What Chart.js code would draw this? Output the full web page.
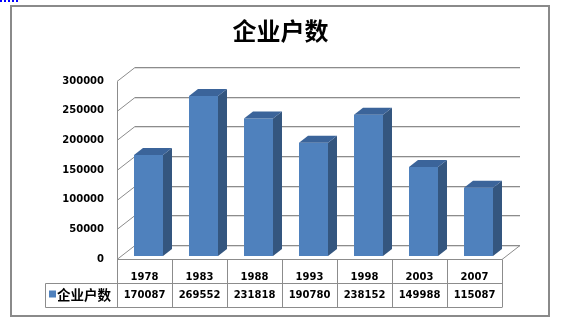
<!DOCTYPE html>
<html><head><meta charset="utf-8">
<script src="https://cdn.jsdelivr.net/npm/chart.js@4.4.0/dist/chart.umd.min.js"></script>
<style>html,body{margin:0;padding:0;background:#fff;overflow:hidden}#wrap{position:relative;width:561px;height:323px}</style>
</head><body><div id="wrap"><canvas id="c" width="561" height="323"></canvas></div>
<script>
// ---- data ----
const chartTitle = '企业户数';
const seriesName = '企业户数';
const years = ['1978', '1983', '1988', '1993', '1998', '2003', '2007'];
const households = [170087, 269552, 231818, 190780, 238152, 149988, 115087];
const yTickLabels = ['0', '50000', '100000', '150000', '200000', '250000', '300000'];

// ---- styling ----
const DEPTH_X = 18, DEPTH_Y = 14;      // wall depth
const BAR_DX = 4, BAR_DY = 3;          // bar plane offset from front
const SIDE_X = 9, SIDE_Y = 7;          // bar depth
const GRID = '#8c8c8c';
const FRONT = '#4f81bd', SIDE = '#34567f', TOP = '#3b649a';
const NUM_FONT = 'bold 10px "DejaVu Sans"';

function line(ctx, x1, y1, x2, y2) { ctx.beginPath(); ctx.moveTo(x1, y1); ctx.lineTo(x2, y2); ctx.stroke(); }

const threeD = {
  id: 'threeD',
  beforeDraw(chart) {
    const ctx = chart.ctx;
    ctx.save();
    ctx.fillStyle = '#fff';
    ctx.fillRect(0, 0, chart.width, chart.height);
    ctx.strokeStyle = '#8a8a8a';
    ctx.lineWidth = 2;
    ctx.strokeRect(11, 6, 538, 310);
    ctx.strokeStyle = '#0000ff';
    ctx.lineWidth = 2;
    ctx.setLineDash([2, 2]);
    line(ctx, 0, 1, 18, 1);
    ctx.setLineDash([]);
    // title, centred on the whole frame
    ctx.fillStyle = '#000';
    ctx.font = 'bold 24px "Noto Sans CJK SC"';
    ctx.textAlign = 'center';
    ctx.textBaseline = 'middle';
    ctx.fillText(chartTitle, 280.5, 31);
    ctx.restore();
  },
  beforeDatasetsDraw(chart) {
    const { ctx, chartArea: a, scales: { y } } = chart;
    ctx.save();
    ctx.lineWidth = 1;
    y.ticks.forEach(t => {
      const py = Math.round(y.getPixelForValue(t.value)) + 0.5;
      ctx.strokeStyle = '#dedede';
      line(ctx, a.left + DEPTH_X, py - DEPTH_Y + 1, a.right + DEPTH_X, py - DEPTH_Y + 1);
      ctx.strokeStyle = GRID;
      line(ctx, a.left + DEPTH_X, py - DEPTH_Y, a.right + DEPTH_X, py - DEPTH_Y);
      line(ctx, a.left, py, a.left + DEPTH_X, py - DEPTH_Y);
    });
    const x0 = Math.round(a.left) + 0.5;
    const yTop = Math.round(y.getPixelForValue(y.max)) + 0.5;
    const yBot = Math.round(y.getPixelForValue(y.min)) + 0.5;
    line(ctx, x0, yTop, x0, yBot);
    // floor
    line(ctx, a.left, yBot, a.right, yBot);
    line(ctx, a.right, yBot, a.right + DEPTH_X, yBot - DEPTH_Y);
    ctx.restore();
    ctx.save();
    ctx.translate(BAR_DX, -BAR_DY);
  },
  afterDatasetsDraw(chart) {
    const ctx = chart.ctx;
    const meta = chart.getDatasetMeta(0);
    meta.data.forEach(bar => {
      const { x, y, base, width } = bar.getProps(['x', 'y', 'base', 'width'], true);
      const l = x - width / 2, r = x + width / 2;
      ctx.fillStyle = SIDE;
      ctx.beginPath();
      ctx.moveTo(r, y); ctx.lineTo(r + SIDE_X, y - SIDE_Y);
      ctx.lineTo(r + SIDE_X, base - SIDE_Y); ctx.lineTo(r, base);
      ctx.closePath(); ctx.fill();
      ctx.fillStyle = TOP;
      ctx.beginPath();
      ctx.moveTo(l, y); ctx.lineTo(l + SIDE_X, y - SIDE_Y);
      ctx.lineTo(r + SIDE_X, y - SIDE_Y); ctx.lineTo(r, y);
      ctx.closePath(); ctx.fill();
    });
    ctx.restore();
  },
  afterDraw(chart) {
    const { ctx, chartArea: a, scales: { y } } = chart;
    const n = years.length;
    const cw = (a.right - a.left) / n;
    const top = Math.round(y.getPixelForValue(y.min)) + 0.5;
    const rowH = 24;
    const legendLeft = 45.5;
    ctx.save();
    ctx.strokeStyle = GRID;
    ctx.lineWidth = 1;
    for (let i = 0; i <= n; i++) {
      const px = Math.round(a.left + i * cw) + 0.5;
      line(ctx, px, top, px, top + 2 * rowH);
    }
    line(ctx, legendLeft, top + rowH, a.right, top + rowH);
    line(ctx, legendLeft, top + 2 * rowH, a.right, top + 2 * rowH);
    line(ctx, legendLeft, top + rowH, legendLeft, top + 2 * rowH);
    ctx.fillStyle = '#000';
    ctx.font = NUM_FONT;
    ctx.textAlign = 'center';
    ctx.textBaseline = 'alphabetic';
    years.forEach((yr, i) => {
      const cx = a.left + (i + 0.5) * cw;
      ctx.fillText(yr, cx, top + 20);
      ctx.fillText(String(households[i]), cx, top + rowH + 14.5);
    });
    // legend cell
    ctx.fillStyle = FRONT;
    ctx.fillRect(49, top + rowH + 7, 7, 7);
    ctx.fillStyle = '#000';
    ctx.textAlign = 'left';
    ctx.textBaseline = 'middle';
    ctx.font = 'bold 13.5px "Noto Sans CJK SC"';
    ctx.fillText(seriesName, 57, top + rowH + 11);
    ctx.restore();
  }
};

new Chart(document.getElementById('c'), {
  type: 'bar',
  data: {
    labels: years,
    datasets: [{
      label: seriesName,
      data: households,
      backgroundColor: FRONT,
      borderWidth: 0,
      barPercentage: 1,
      categoryPercentage: 29 / 55
    }]
  },
  options: {
    responsive: false,
    animation: false,
    devicePixelRatio: 1,
    layout: { padding: { left: 0, right: 59, top: 81, bottom: 64 } },
    plugins: {
      legend: { display: false },
      tooltip: { enabled: false },
      title: { display: false }
    },
    scales: {
      x: { display: false, offset: true, grid: { display: false } },
      y: {
        min: 0, max: 300000,
        ticks: {
          stepSize: 50000,
          color: '#000',
          font: { family: 'DejaVu Sans', size: 10, weight: 'bold' },
          padding: 13,
          callback: (v, i) => yTickLabels[i]
        },
        grid: { display: false, drawTicks: false },
        border: { display: false },
        afterFit(s) { s.width = 117; }
      }
    }
  },
  plugins: [threeD]
});
</script>
</body></html>
